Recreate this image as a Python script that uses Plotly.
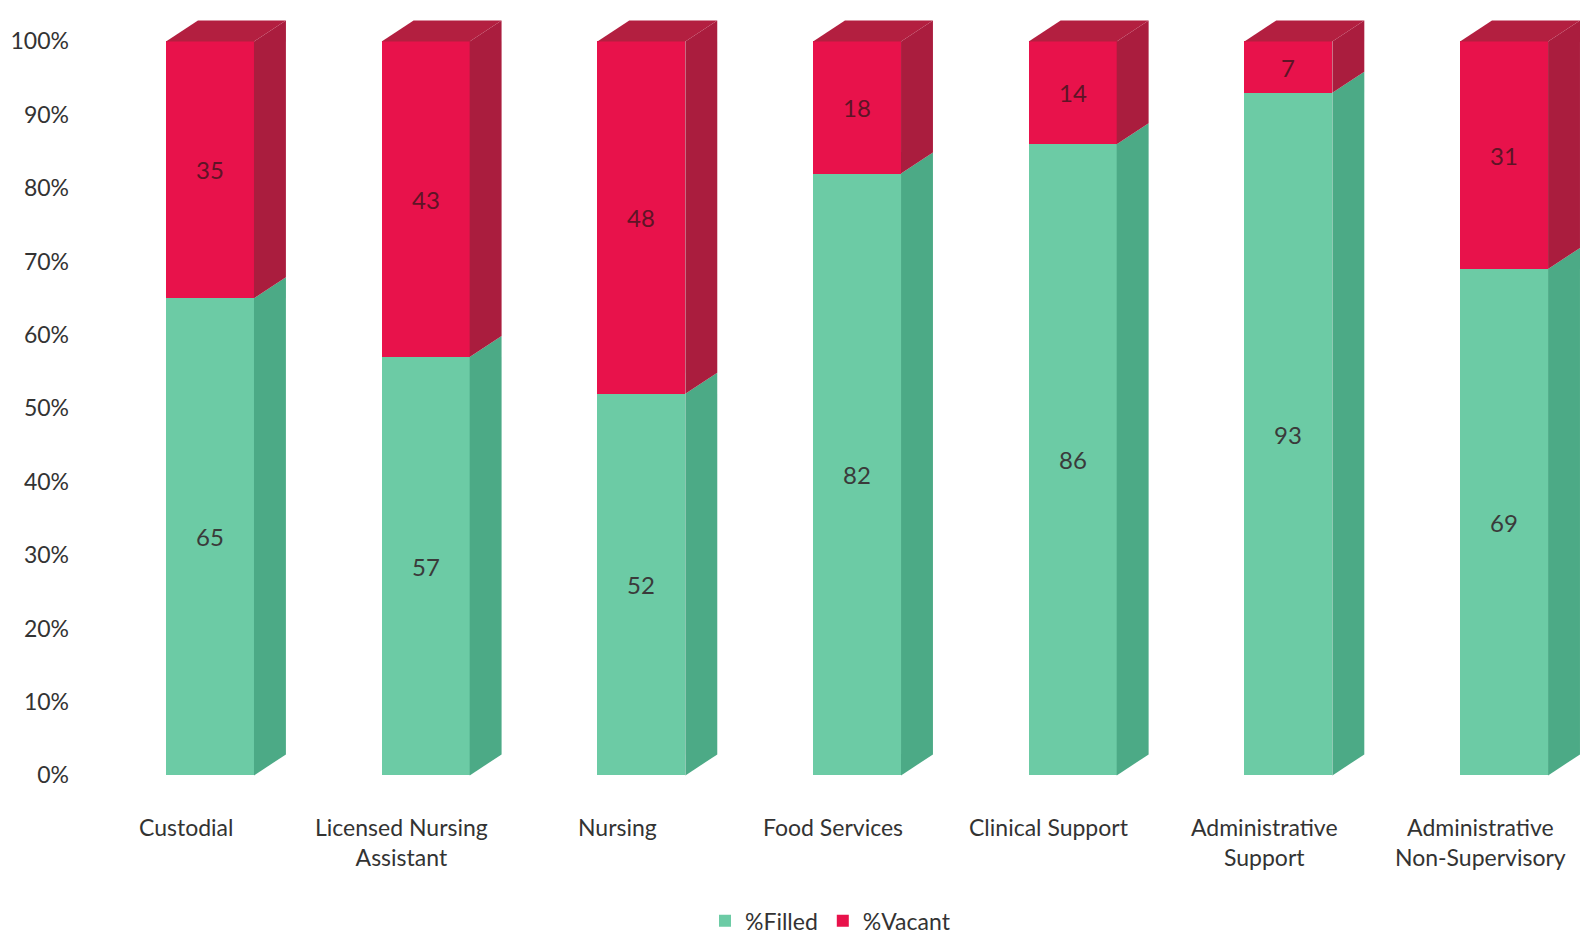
import plotly.graph_objects as go

categories = ["Custodial", "Licensed Nursing<br>Assistant", "Nursing", "Food Services",
              "Clinical Support", "Administrative<br>Support", "Administrative<br>Non-Supervisory"]
filled = [65, 57, 52, 82, 86, 93, 69]
vacant = [35, 43, 48, 18, 14, 7, 31]
tick_vals = [0, 10, 20, 30, 40, 50, 60, 70, 80, 90, 100]
tick_text = [f"{v}%" for v in tick_vals]

GREEN = "#6ccba5"
GREEN_SIDE = "#4caa86"
RED = "#e8124b"
RED_SIDE = "#aa1d3e"
RED_TOP = "#b31f40"
FONT = "Lato"

x = list(range(len(categories)))
bw = 0.408     # bar width (category units)
dx = 0.148     # depth offset in x
dy = 2.86      # depth offset in y (percent)

fig = go.Figure()
fig.add_trace(go.Bar(x=x, y=filled, name="%Filled", marker=dict(color=GREEN, line=dict(width=0)),
                     width=bw, text=[str(v) for v in filled], textposition="inside",
                     insidetextanchor="middle", textangle=0,
                     textfont=dict(family=FONT, size=24, color="#3a3a3a")))
fig.add_trace(go.Bar(x=x, y=vacant, name="%Vacant", marker=dict(color=RED, line=dict(width=0)),
                     width=bw, text=[str(v) for v in vacant], textposition="inside",
                     insidetextanchor="middle", textangle=0,
                     textfont=dict(family=FONT, size=24, color="#5e1426")))

# 3D side and top faces derived from the data
for i, (f, v) in enumerate(zip(filled, vacant)):
    xl = x[i] - bw / 2
    xr = x[i] + bw / 2
    total = f + v
    for y0, y1, col in [(0, f, GREEN_SIDE), (f, total, RED_SIDE)]:
        fig.add_trace(go.Scatter(
            x=[xr, xr + dx, xr + dx, xr, xr], y=[y0, y0 + dy, y1 + dy, y1, y0],
            fill="toself", fillcolor=col, mode="lines", line=dict(width=0),
            showlegend=False, hoverinfo="skip"))
    fig.add_trace(go.Scatter(
        x=[xl, xl + dx, xr + dx, xr, xl], y=[total, total + dy, total + dy, total, total],
        fill="toself", fillcolor=RED_TOP, mode="lines", line=dict(width=0),
        showlegend=False, hoverinfo="skip"))

for i, c in enumerate(categories):
    fig.add_annotation(x=x[i], y=0, xref="x", yref="paper", text=c, showarrow=False,
                       xanchor="center", yanchor="top", xshift=-24, yshift=-14,
                       font=dict(family=FONT, size=23, color="#333333"))

fig.update_layout(
    width=1583, height=934,
    barmode="stack",
    bargap=0,
    plot_bgcolor="white", paper_bgcolor="white",
    margin=dict(l=78, r=0, t=5, b=137),
    xaxis=dict(range=[-0.612, 6.366], showticklabels=False, showgrid=False,
               zeroline=False, showline=False, fixedrange=True),
    yaxis=dict(range=[-2.94, 104.96], tickvals=tick_vals, ticktext=tick_text,
               showgrid=False, zeroline=False, showline=False, ticks="",
               tickfont=dict(family=FONT, size=23, color="#333333"), ticklabelstandoff=8),
    legend=dict(orientation="h", x=0.5, xanchor="center", y=0.0142, yref="container",
                yanchor="middle", font=dict(family=FONT, size=23, color="#333333"),
                itemwidth=30, traceorder="normal"),
    showlegend=True,
)

fig.write_html("out.html")
